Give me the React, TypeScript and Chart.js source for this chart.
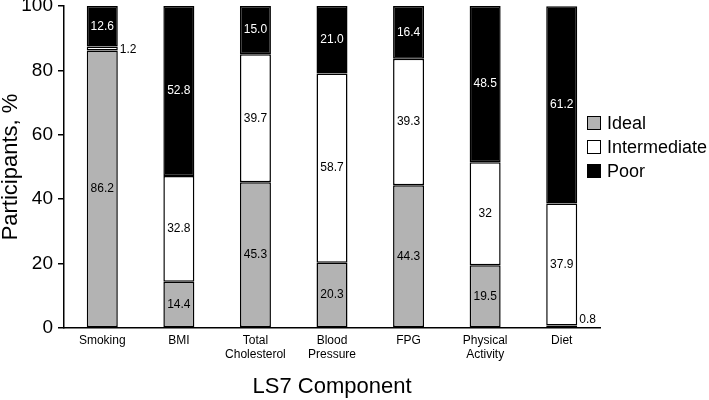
import React, { useEffect, useRef } from 'react';
import { Chart, registerables } from 'chart.js';

Chart.register(...registerables);

const categories = [
  'Smoking',
  'BMI',
  ['Total', 'Cholesterol'],
  ['Blood', 'Pressure'],
  'FPG',
  ['Physical', 'Activity'],
  'Diet',
];

// values kept as printed in the figure (e.g. "15.0", "32")
const ideal = ['86.2', '14.4', '45.3', '20.3', '44.3', '19.5', '0.8'];
const intermediate = ['1.2', '32.8', '39.7', '58.7', '39.3', '32', '37.9'];
const poor = ['12.6', '52.8', '15.0', '21.0', '16.4', '48.5', '61.2'];

const yTicks = [0, 20, 40, 60, 80, 100];

const FONT = "'Liberation Sans', Arial, sans-serif";
const GRAY = '#b3b3b3';

const valueLabels = {
  id: 'valueLabels',
  afterDatasetsDraw(chart: any) {
    const { ctx, chartArea } = chart;
    ctx.save();
    ctx.font = `12px ${FONT}`;
    ctx.textBaseline = 'middle';
    chart.data.datasets.forEach((ds: any, di: number) => {
      const meta = chart.getDatasetMeta(di);
      meta.data.forEach((bar: any, i: number) => {
        const raw = ds.data[i];
        const v = Number(raw);
        const { x, y, base, width } = bar.getProps(['x', 'y', 'base', 'width'], true);
        const cy = (y + base) / 2;
        if (v < 3) {
          ctx.fillStyle = '#000';
          ctx.textAlign = 'left';
          ctx.fillText(raw, x + width / 2 + 2, Math.min(cy + 1, chartArea.bottom - 8));
        } else {
          ctx.fillStyle = di === 2 ? '#fff' : '#000';
          ctx.textAlign = 'center';
          ctx.fillText(raw, x, cy);
        }
      });
    });
    ctx.restore();
  },
};

const sideLegend = {
  id: 'sideLegend',
  afterDraw(chart: any) {
    const { ctx, chartArea } = chart;
    const bx = chartArea.right - 13;
    const top = chartArea.top + 117;
    ctx.save();
    ctx.font = `18px ${FONT}`;
    ctx.textBaseline = 'middle';
    ctx.textAlign = 'left';
    chart.data.datasets.forEach((ds: any, i: number) => {
      const cy = top + i * 24;
      ctx.fillStyle = ds.backgroundColor;
      ctx.fillRect(bx, cy - 7, 14, 14);
      ctx.strokeStyle = '#000';
      ctx.lineWidth = 1;
      ctx.strokeRect(bx + 0.5, cy - 6.5, 13, 13);
      ctx.fillStyle = '#000';
      ctx.fillText(ds.label, bx + 20, cy + 1);
    });
    ctx.restore();
  },
};

export default function App() {
  const ref = useRef<HTMLCanvasElement>(null);

  useEffect(() => {
    const mk = (label: string, data: string[], color: string) => ({
      label,
      data,
      backgroundColor: color,
      borderColor: '#000',
      borderWidth: 1.5,
      borderSkipped: false,
      barPercentage: 0.405,
      categoryPercentage: 1,
    });

    const chart = new Chart(ref.current!, {
      type: 'bar',
      data: {
        labels: categories,
        datasets: [
          mk('Ideal', ideal, GRAY),
          mk('Intermediate', intermediate, '#ffffff'),
          mk('Poor', poor, '#000000'),
        ] as any,
      },
      options: {
        animation: false,
        responsive: true,
        maintainAspectRatio: false,
        layout: { padding: { top: 6, right: 109, bottom: 0, left: 0 } },
        plugins: {
          legend: { display: false },
          tooltip: { enabled: false },
        },
        scales: {
          x: {
            stacked: true,
            grid: { display: false, drawTicks: false },
            border: { display: true, color: '#000', width: 1.5 },
            ticks: {
              color: '#000',
              font: { family: FONT, size: 12, lineHeight: 1.2 },
              padding: 5,
              maxRotation: 0,
              autoSkip: false,
            },
            title: {
              display: true,
              text: 'LS7 Component',
              color: '#000',
              font: { family: FONT, size: 22 },
              padding: { top: 4, bottom: 0 },
            },
            afterFit: (s: any) => {
              s.height = 72;
            },
          },
          y: {
            stacked: true,
            min: 0,
            max: 100,
            afterBuildTicks: (s: any) => {
              s.ticks = yTicks.map((v) => ({ value: v }));
            },
            grid: {
              display: true,
              drawOnChartArea: false,
              drawTicks: true,
              tickLength: 6,
              color: '#000',
              lineWidth: 1.5,
            },
            border: { display: true, color: '#000', width: 1.5 },
            ticks: {
              color: '#000',
              font: { family: FONT, size: 19 },
              padding: 5,
            },
            title: {
              display: true,
              text: 'Participants, %',
              color: '#000',
              font: { family: FONT, size: 22, lineHeight: 1 },
              padding: { top: 0, bottom: 0 },
            },
            afterFit: (s: any) => {
              s.width = 64;
              s.paddingTop = 0;
              s.paddingBottom = 0;
            },
          },
        },
      },
      plugins: [valueLabels, sideLegend],
    });

    return () => {
      chart.destroy();
    };
  }, []);

  return (
    <div style={{ position: 'absolute', left: 0, top: 0, width: 709, height: 400, background: '#fff' }}>
      <canvas ref={ref} />
    </div>
  );
}
